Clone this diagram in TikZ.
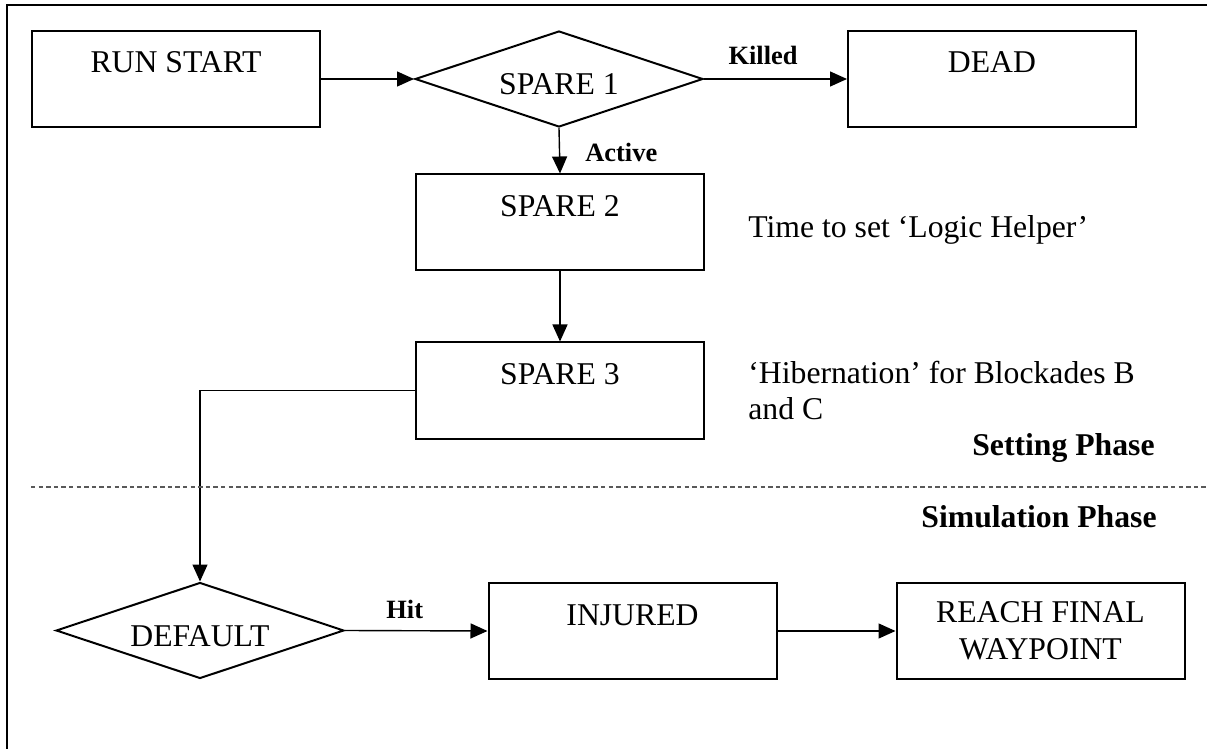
\documentclass[tikz,border=0pt]{standalone}
\usepackage{fontspec}
\setmainfont{Liberation Serif}
\usetikzlibrary{arrows.meta,shapes.geometric}
\begin{document}
\begin{tikzpicture}[x=0.5pt,y=-0.5pt,
  boxtext/.style={font=\fontsize{15.85}{18.5}\selectfont},
  lbl/.style={font=\fontsize{13.2}{15}\selectfont\bfseries, inner sep=0pt},
  phase/.style={font=\fontsize{15.85}{18.5}\selectfont\bfseries, inner sep=0pt},
  note/.style={font=\fontsize{15.85}{18.5}\selectfont, inner sep=0pt},
  stepbox/.style={draw, line width=1pt, rectangle, inner sep=0pt,
    minimum width=144pt, text height=21pt, text depth=27pt, boxtext},
  twobox/.style={draw, line width=1pt, rectangle, inner sep=0pt,
    minimum width=144pt, minimum height=48pt, align=center, boxtext},
  decide/.style={draw, line width=1pt, diamond, inner sep=0pt,
    minimum width=144pt, minimum height=48pt},
  flow/.style={line width=0.7pt, -{Triangle[length=8.5pt,width=7.5pt]}},
  plain/.style={line width=0.7pt}
]
\useasboundingbox (0,0) rectangle (1207,749);
% outer frame (only top and left edges visible)
\draw[line width=1pt] (7,749) -- (7,5) -- (1207,5);

% nodes
\node[stepbox] (rs) at (176,79) {RUN START};
\node[decide] (s1) at (559,79) {};
\node[boxtext, anchor=base] (s1t) at ([yshift=-8pt]s1.center) {SPARE 1};
\node[stepbox] (dead) at (992,79) {DEAD};
\node[stepbox] (s2) at (560,222.5) {SPARE 2};
\node[stepbox] (s3) at (560,390.5) {SPARE 3};
\node[decide] (df) at (200,630.5) {};
\node[boxtext, anchor=base] (dft) at ([yshift=-8pt]df.center) {DEFAULT};
\node[stepbox] (inj) at (632.5,631) {INJURED};
\node[twobox] (reach) at (1040.5,631) {REACH FINAL\\WAYPOINT};

% connectors
\draw[flow] (rs.east) -- (s1.west);
\draw[flow] (s1.east) -- (dead.west);
\draw[flow] (s1.south) -- (s2.north);
\draw[flow] (s2.south) -- (s3.north);
\draw[flow] (s3.west) -| (df.north);
\draw[flow] (df.east) -- (inj.west);
\draw[flow] (inj.east) -- (reach.west);

% connector labels
\node[lbl, anchor=base] (killed) at (763,65) {Killed};
\node[lbl, anchor=base west] (active) at (585,162) {Active};
\node[lbl, anchor=base west] (hit) at (386,618) {Hit};

% notes
\node[note, anchor=base west] (time) at (748,238) {Time to set ‘Logic Helper’};
\node[note, anchor=base west] (hib1) at (748,384) {‘Hibernation’ for Blockades B};
\node[note, anchor=base west] (hib2) at (748,419) {and C};

% phase separator
\draw[line width=0.6pt, gray!70!black, dash pattern=on 2.2pt off 1.6pt] (31,487) -- (1207,487);
\node[phase, anchor=base east] (setp) at (1155,455) {Setting Phase};
\node[phase, anchor=base east] (simp) at (1157,527) {Simulation Phase};
\end{tikzpicture}
\end{document}
